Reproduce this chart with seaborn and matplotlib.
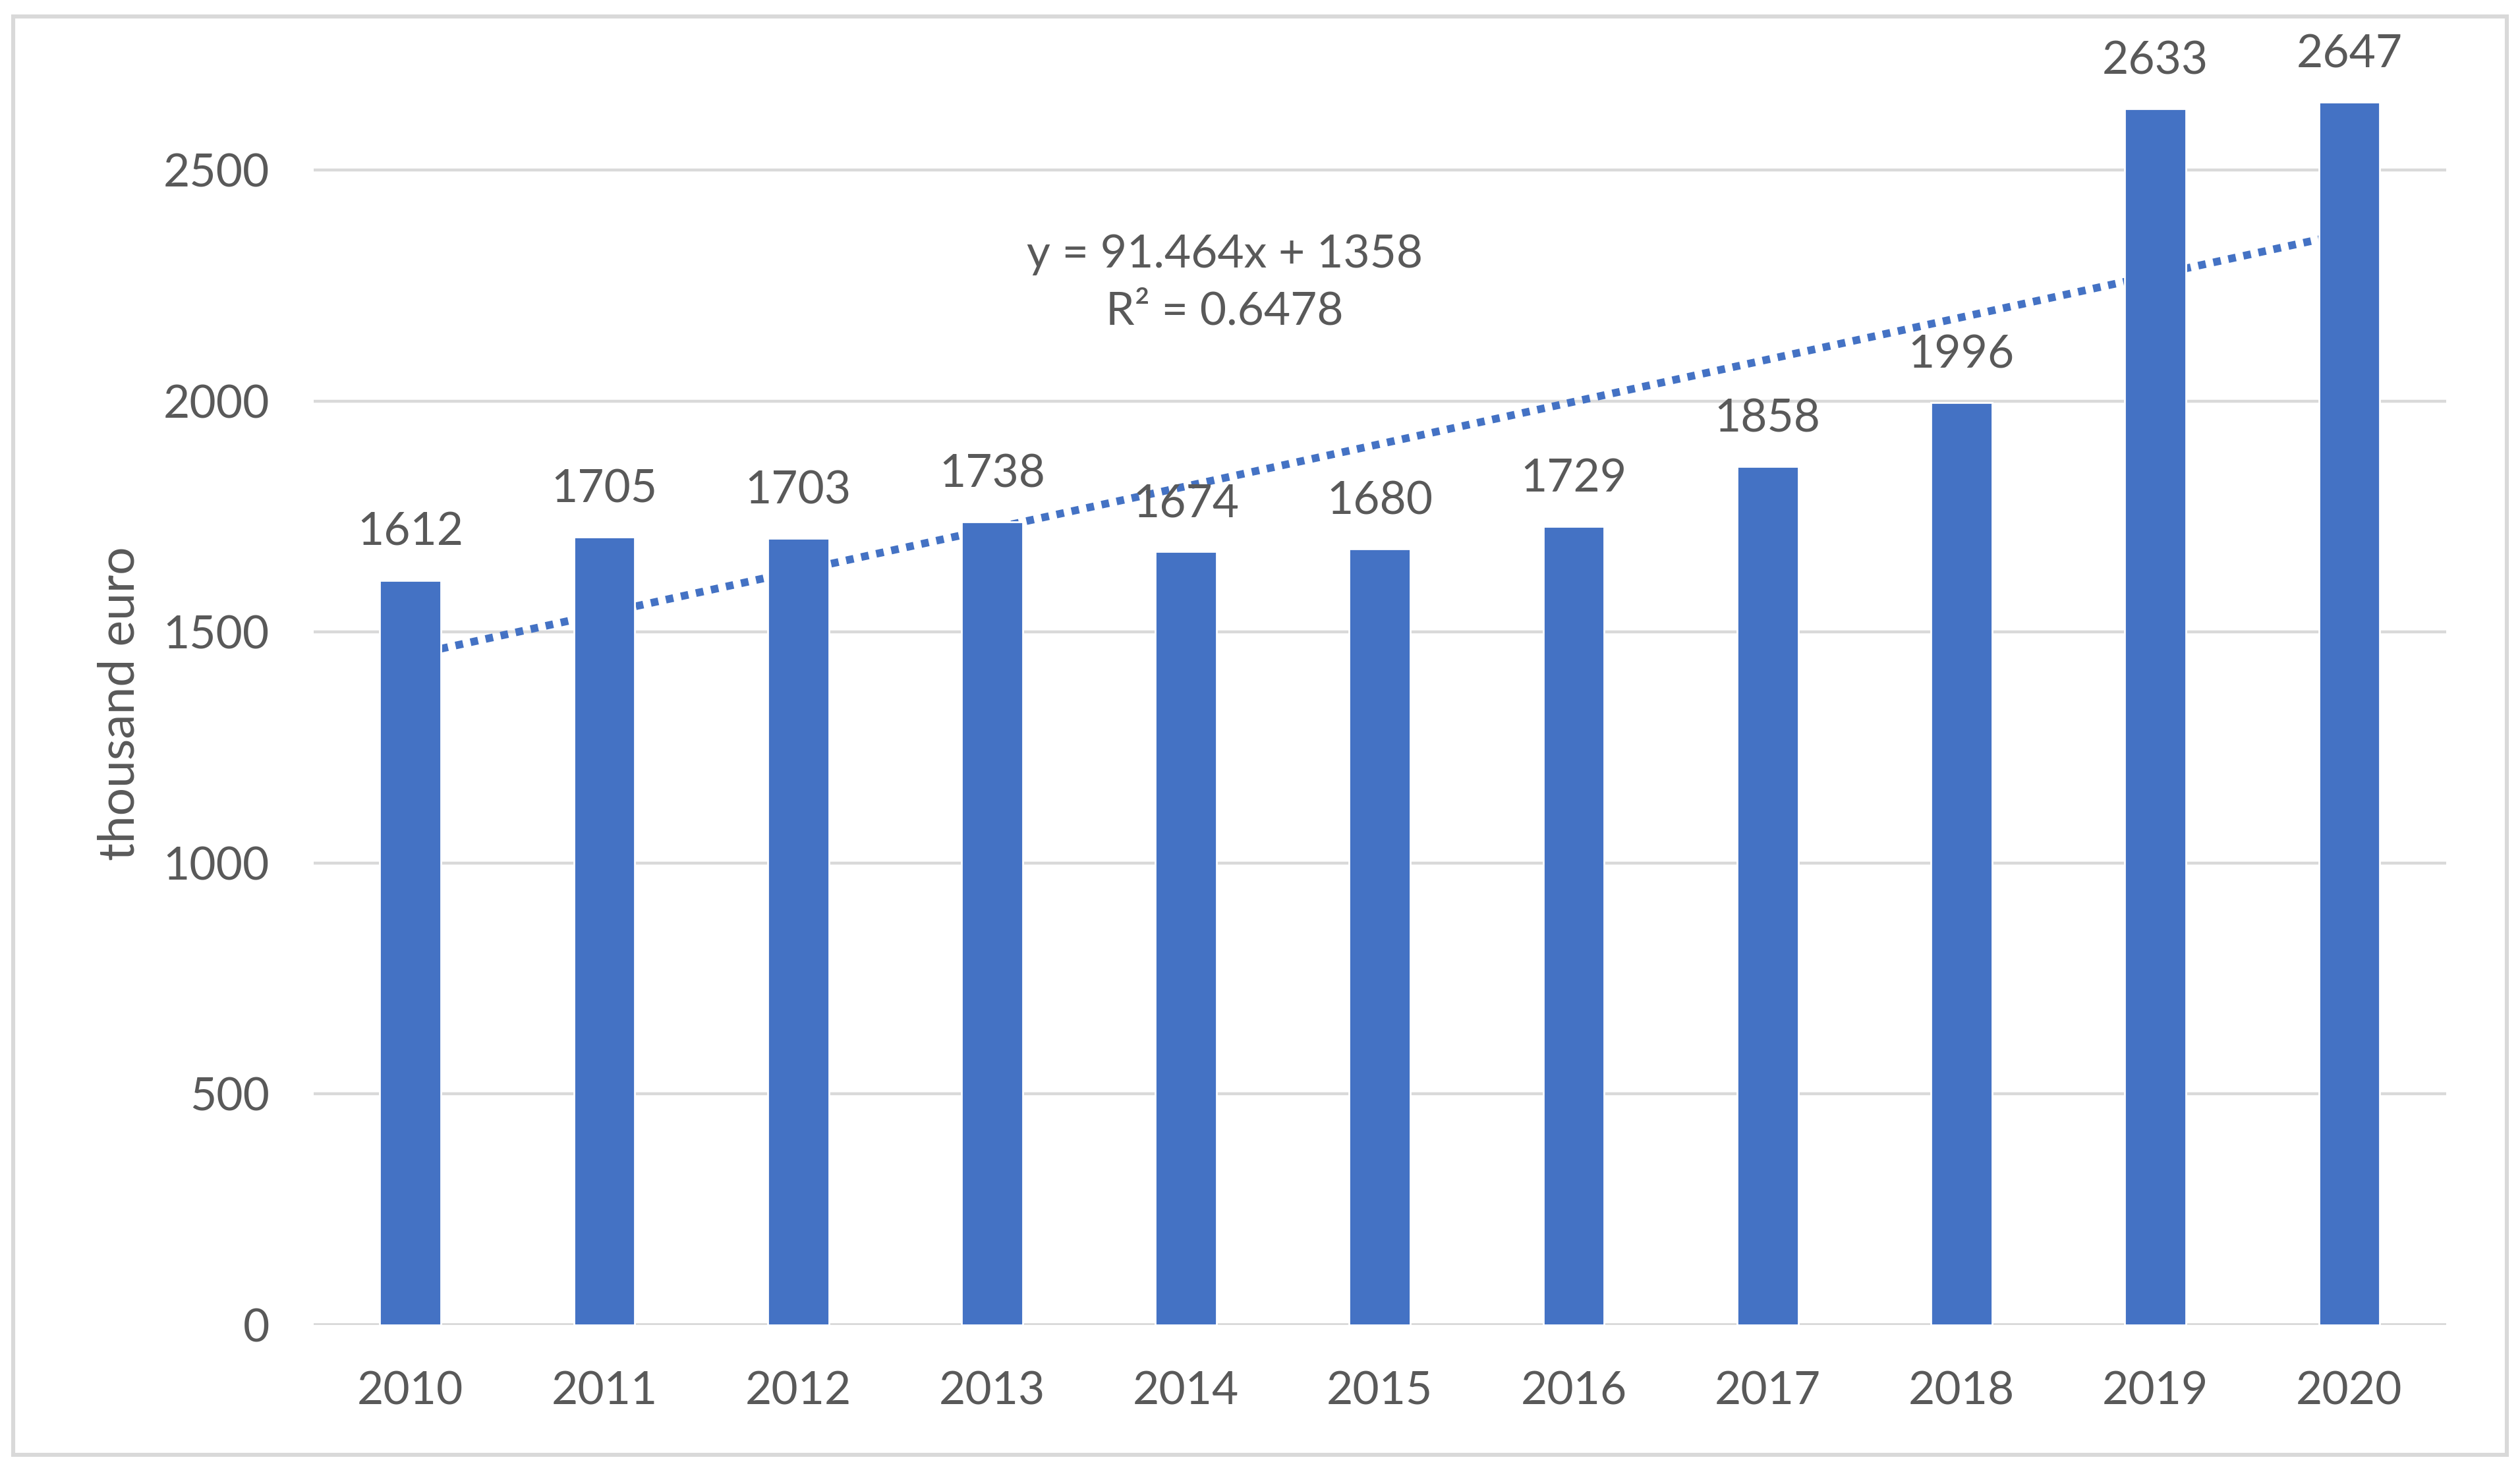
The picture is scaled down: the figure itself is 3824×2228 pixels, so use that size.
import numpy as np
import pandas as pd
import matplotlib
matplotlib.use("Agg")
import matplotlib.pyplot as plt
import seaborn as sns
from matplotlib.patches import Rectangle

# chart data
years = ["2010", "2011", "2012", "2013", "2014", "2015", "2016", "2017", "2018", "2019", "2020"]
values = [1612, 1705, 1703, 1738, 1674, 1680, 1729, 1858, 1996, 2633, 2647]
y_ticks = [0, 500, 1000, 1500, 2000, 2500]
# linear trendline from the chart: y = 91.464x + 1358 (x = 1..11)
trend_slope = 91.464
trend_intercept = 1358
trend_r2 = 0.6478

sns.set_theme(style="white")
plt.rcParams['font.family'] = ['Lato', 'DejaVu Sans']

bar_color = "#4472C4"
text_color = "#595959"
grid_color = "#D9D9D9"

df = pd.DataFrame({"year": years, "value": values})

fig = plt.figure(figsize=(19.12, 11.14), dpi=200)
ax = fig.add_axes([0.1244, 0.0974, 0.8463, 0.8466])

sns.barplot(data=df, x="year", y="value", color=bar_color, saturation=1,
            width=0.315, ax=ax, zorder=3)

# trendline (drawn behind the bars, like excel)
xs = np.arange(len(years))
trend = trend_slope * (xs + 1) + trend_intercept
ax.plot(xs, trend, linestyle=(0, (1, 1)), color=bar_color, lw=4.2,
        dash_capstyle="butt", zorder=2.5)

ax.text(4.2, 2255, f"y = {trend_slope}x + {trend_intercept}\nR² = {trend_r2}",
        ha="center", va="center", fontsize=25, color=text_color,
        linespacing=1.45, zorder=5)

# data labels
for i, v in enumerate(values):
    ax.annotate(str(v), (i, v), xytext=(0, 26), textcoords="offset points",
                ha="center", va="center", fontsize=25, color=text_color,
                annotation_clip=False, zorder=5)

ax.set_xlim(-0.5, len(years) - 0.5)
ax.set_ylim(0, 2690)
ax.set_yticks(y_ticks)
ax.yaxis.grid(True, color=grid_color, lw=1.6, zorder=0)
ax.xaxis.grid(False)
for s in ax.spines.values():
    s.set_visible(False)
ax.axhline(0, color=grid_color, lw=2.0, zorder=2)

ax.tick_params(axis="y", length=0, pad=24, labelsize=25, labelcolor=text_color)
ax.tick_params(axis="x", length=0, pad=25, labelsize=25, labelcolor=text_color)
ax.set_xlabel("")
ax.set_ylabel("thousand euro", fontsize=27, color=text_color)
ax.yaxis.set_label_coords(-0.08, 0.5)

# outer chart border
fig.patches.append(Rectangle((0.0051, 0.0088), 0.9898, 0.980, transform=fig.transFigure,
                             fill=False, edgecolor=grid_color, lw=2.2))

fig.savefig("out.png", dpi=200, facecolor="white")
